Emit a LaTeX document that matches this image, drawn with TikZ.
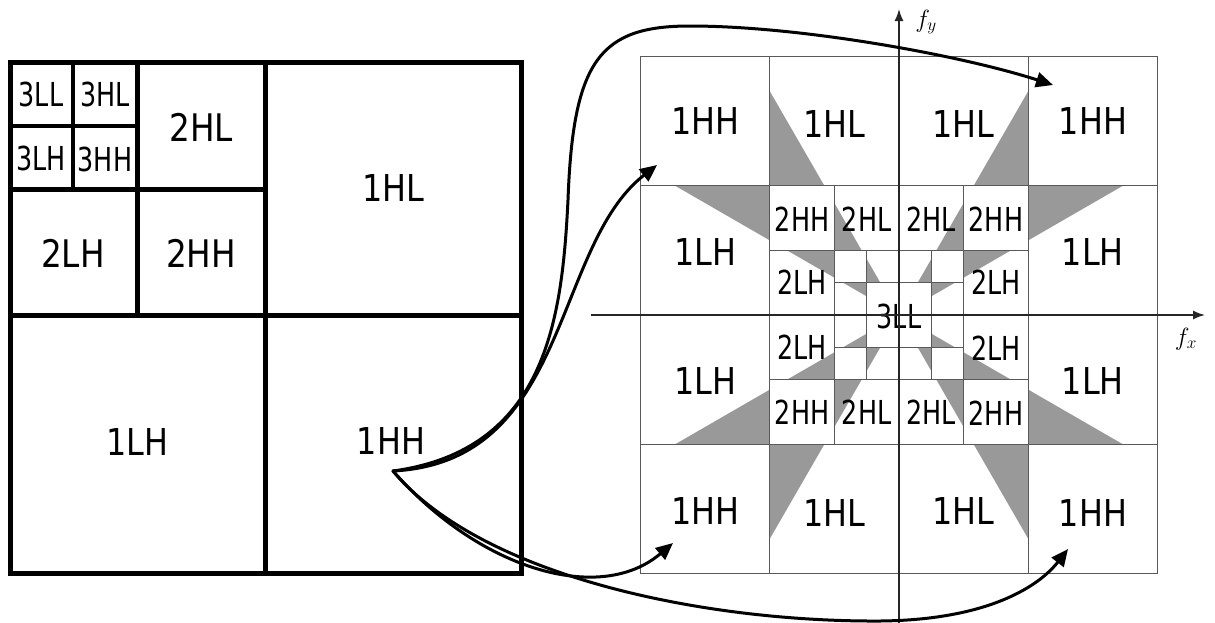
\documentclass[tikz,border=0pt]{standalone}
\usepackage{fontspec}
\newfontfamily\labA{DejaVu Sans}[FakeStretch=0.86]
\newfontfamily\labB{DejaVu Sans}[FakeStretch=0.77]
\usetikzlibrary{arrows.meta}

\definecolor{wedge}{gray}{0.6}
\definecolor{gridgray}{gray}{0.35}
\definecolor{axisgray}{gray}{0.15}

\begin{document}
\begin{tikzpicture}[x=1pt,y=-1pt,
  bigtxt/.style={font=\labA\fontsize{37}{37}\selectfont, inner sep=0pt},
  midtxt/.style={font=\labA\fontsize{38}{38}\selectfont, inner sep=0pt},
  smalltxt/.style={font=\labB\fontsize{33}{33}\selectfont, inner sep=0pt},
  heavy/.style={line width=5pt, line join=miter},
  medium/.style={line width=3.6pt},
  cell/.style={draw=gridgray, line width=1.3pt},
  axis/.style={draw=axisgray, line width=1.5pt, -{Latex[length=12pt,width=9pt]}},
  axlabel/.style={font=\fontsize{23}{23}\selectfont, inner sep=0pt},
  link/.style={line width=3pt, line cap=round, -{Triangle[length=17pt,width=15pt]}}]

\useasboundingbox (0,0) rectangle (1215,622);

% ---------- decomposition tree on the left ----------
\draw[heavy] (10,62) rectangle (521,573);
\draw[heavy] (265,62) -- (265,573);
\draw[heavy] (10,315) -- (521,315);
\draw[heavy] (137,62) -- (137,315);
\draw[heavy] (10,189) -- (265,189);
\draw[medium] (73,62) -- (73,189);
\draw[medium] (10,126) -- (137,126);

\node[smalltxt] (l3ll) at (41,94)   {3LL};
\node[smalltxt] (l3hl) at (105,94)  {3HL};
\node[smalltxt] (l3lh) at (41,158)  {3LH};
\node[smalltxt] (l3hh) at (105,159) {3HH};
\node[midtxt]   (l2hl) at (201,127) {2HL};
\node[midtxt]   (l2lh) at (73,253)  {2LH};
\node[midtxt]   (l2hh) at (201,253) {2HH};
\node[bigtxt]   (l1hl) at (393,188) {1HL};
\node[bigtxt]   (l1lh) at (137,442) {1LH};
\node[bigtxt]   (l1hh) at (391,441) {1HH};

% ---------- frequency plane on the right ----------
\begin{scope}[xshift=899pt, yshift=-315pt, x=129.25pt, y=-129.25pt]
  % directional wedges of each level
  \foreach \f in {1,0.5,0.25}{
    \foreach \sx in {-1,1}{
      \foreach \sy in {-1,1}{
        \fill[wedge] (\sx*\f,\sy*\f*1.7320508) -- (\sx*\f,\sy*\f)
                     -- (\sx*\f*0.5773503,\sy*\f) -- cycle;
        \fill[wedge] (\sx*\f*1.7320508,\sy*\f) -- (\sx*\f,\sy*\f)
                     -- (\sx*\f,\sy*\f*0.5773503) -- cycle;
      }}}
  % subband grid
  \draw[cell] (-2,-2) rectangle (2,2);
  \foreach \v in {-1,0,1}{
    \draw[cell] (\v,-2) -- (\v,2);
    \draw[cell] (-2,\v) -- (2,\v);}
  \foreach \v in {-0.5,0.5}{
    \draw[cell] (\v,-1) -- (\v,1);
    \draw[cell] (-1,\v) -- (1,\v);}
  \foreach \v in {-0.25,0.25}{
    \draw[cell] (\v,-0.5) -- (\v,0.5);
    \draw[cell] (-0.5,\v) -- (0.5,\v);}

  % first level
  \node[bigtxt] (r1hh-tl) at (-1.5,-1.5)  {1HH};
  \node[bigtxt] (r1hl-tl) at (-0.5,-1.48) {1HL};
  \node[bigtxt] (r1hl-tr) at (0.5,-1.48)  {1HL};
  \node[bigtxt] (r1hh-tr) at (1.5,-1.5)   {1HH};
  \node[bigtxt] (r1lh-ul) at (-1.5,-0.49) {1LH};
  \node[bigtxt] (r1lh-ur) at (1.5,-0.49)  {1LH};
  \node[bigtxt] (r1lh-dl) at (-1.5,0.51)  {1LH};
  \node[bigtxt] (r1lh-dr) at (1.5,0.51)   {1LH};
  \node[bigtxt] (r1hh-bl) at (-1.5,1.52)  {1HH};
  \node[bigtxt] (r1hl-bl) at (-0.5,1.53)  {1HL};
  \node[bigtxt] (r1hl-br) at (0.5,1.52)   {1HL};
  \node[bigtxt] (r1hh-br) at (1.5,1.53)   {1HH};
  % second level
  \node[smalltxt] (r2hh-tl) at (-0.75,-0.74) {2HH};
  \node[smalltxt] (r2hl-tl) at (-0.25,-0.74) {2HL};
  \node[smalltxt] (r2hl-tr) at (0.25,-0.74)  {2HL};
  \node[smalltxt] (r2hh-tr) at (0.75,-0.74)  {2HH};
  \node[smalltxt] (r2lh-ul) at (-0.75,-0.25) {2LH};
  \node[smalltxt] (r2lh-ur) at (0.75,-0.25)  {2LH};
  \node[smalltxt] (r2lh-dl) at (-0.75,0.25)  {2LH};
  \node[smalltxt] (r2lh-dr) at (0.75,0.26)   {2LH};
  \node[smalltxt] (r2hh-bl) at (-0.75,0.75)  {2HH};
  \node[smalltxt] (r2hl-bl) at (-0.25,0.75)  {2HL};
  \node[smalltxt] (r2hl-br) at (0.25,0.75)   {2HL};
  \node[smalltxt] (r2hh-br) at (0.75,0.76)   {2HH};
  % third level
  \node[smalltxt] (r3ll) at (0,0.01) {3LL};
\end{scope}

% frequency axes
\coordinate (fx0) at (591,315);
\coordinate (fx1) at (1205,315);
\coordinate (fy0) at (899,624);
\coordinate (fy1) at (899,9);
\draw[axis] (fx0) -- (fx1);
\draw[axis] (fy0) -- (fy1);
\node[axlabel] (fxlab) at (1186,339) {$f_x$};
\node[axlabel] (fylab) at (926,22)   {$f_y$};

% ---------- links from the 1HH band to its four quadrants ----------
\coordinate (src) at (393,471);
\coordinate (tipTL) at (657,165);
\coordinate (tipTR) at (1053,85);
\coordinate (tipBL) at (673,543);
\coordinate (tipBR) at (1068,549);

\draw[link] (src) .. controls (570,462) and (552,247) .. (tipTL);
\draw[link] (src) .. controls (546,450) and (562,320) .. (568,200)
                  .. controls (573,60) and (600,26) .. (690,26)
                  .. controls (800,26) and (960,55) .. (tipTR);
\draw[link] (src) .. controls (480,570) and (600,605) .. (tipBL);
\draw[link] (src) .. controls (480,575) and (700,622) .. (880,621)
                  .. controls (990,620) and (1040,585) .. (tipBR);
\end{tikzpicture}
\end{document}
